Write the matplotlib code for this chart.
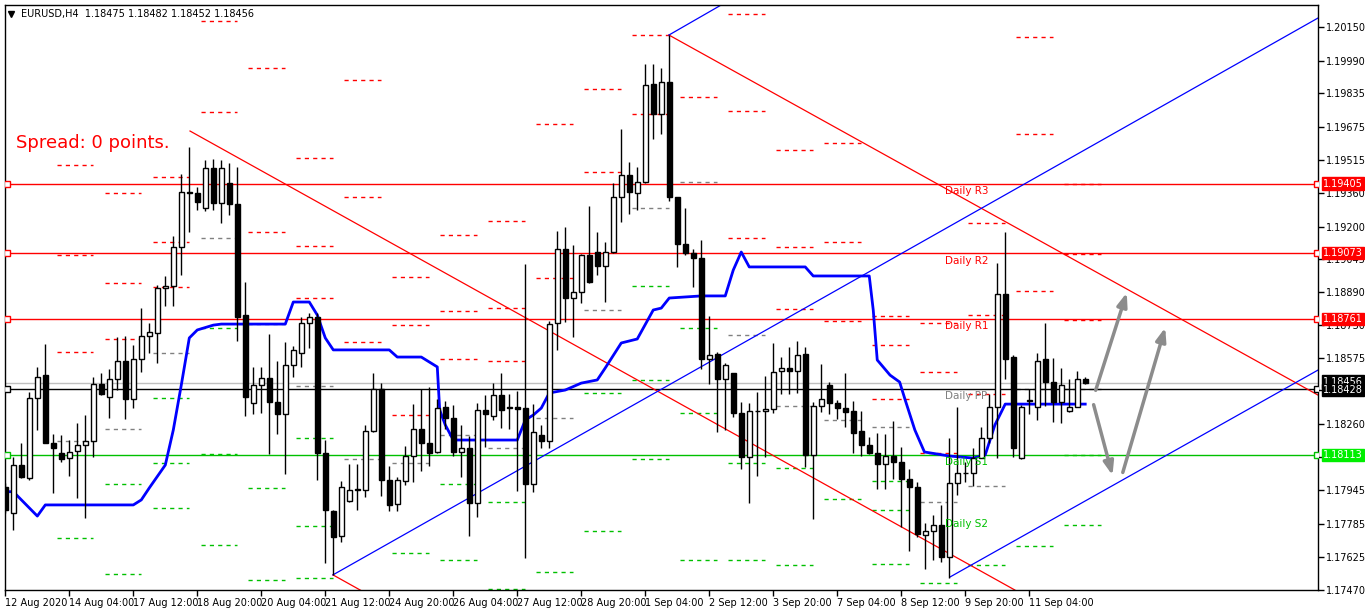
import matplotlib
matplotlib.use("Agg")
import matplotlib.pyplot as plt
from matplotlib.patches import Rectangle

opens = [1.17962,1.17835,1.18065,1.18001,1.18382,1.18492,1.18171,1.18124,1.18097,1.18130,
1.18162,1.18181,1.18449,1.18387,1.18473,1.18562,1.18377,1.18568,1.18679,1.18695,
1.18906,1.18917,1.19101,1.19363,1.19358,1.19287,1.19477,1.19311,1.19406,1.19307,
1.18777,1.18358,1.18444,1.18477,1.18363,1.18306,1.18539,1.18596,1.18739,1.18768,
1.18124,1.17847,1.17726,1.17894,1.17948,1.17948,1.18225,1.18429,1.17996,1.17878,
1.17989,1.18107,1.18238,1.18168,1.18127,1.18343,1.18290,1.18127,1.18148,1.17886,
1.18325,1.18300,1.18397,1.18335,1.18343,1.18335,1.17976,1.18209,1.18179,1.18742,
1.19094,1.18860,1.18888,1.19064,1.19077,1.19013,1.19077,1.19339,1.19445,1.19362,
1.19413,1.19877,1.19735,1.19887,1.19339,1.19118,1.19073,1.19049,1.18571,1.18592,
1.18476,1.18501,1.18311,1.18101,1.18320,1.18320,1.18330,1.18511,1.18525,1.18514,
1.18592,1.18112,1.18347,1.18444,1.18358,1.18335,1.18324,1.18227,1.18160,1.18120,
1.18068,1.18108,1.18081,1.18000,1.17959,1.17732,1.17752,1.17781,1.17628,1.17981,
1.18028,1.18028,1.18100,1.18192,1.18339,1.18877,1.18577,1.18097,1.18371,1.18343,
1.18568,1.18462,1.18366,1.18324,1.18343,1.18475]
closes = [1.17851,1.18065,1.18009,1.18382,1.18485,1.18171,1.18144,1.18092,1.18128,1.18159,
1.18181,1.18449,1.18401,1.18473,1.18562,1.18377,1.18568,1.18679,1.18700,1.18906,
1.18917,1.19101,1.19363,1.19358,1.19315,1.19477,1.19311,1.19477,1.19306,1.18771,
1.18390,1.18444,1.18477,1.18366,1.18306,1.18539,1.18612,1.18739,1.18768,1.18124,
1.17851,1.17720,1.17960,1.17948,1.17950,1.18227,1.18426,1.17996,1.17873,1.17993,
1.18107,1.18238,1.18168,1.18120,1.18336,1.18290,1.18127,1.18148,1.17886,1.18328,
1.18307,1.18397,1.18328,1.18343,1.18330,1.17976,1.18222,1.18179,1.18737,1.19094,
1.18860,1.18888,1.19064,1.18937,1.19013,1.19077,1.19339,1.19445,1.19364,1.19413,
1.19874,1.19735,1.19887,1.19339,1.19118,1.19076,1.19049,1.18571,1.18587,1.18476,
1.18539,1.18311,1.18101,1.18324,1.18324,1.18330,1.18509,1.18525,1.18514,1.18587,
1.18112,1.18347,1.18377,1.18358,1.18335,1.18319,1.18219,1.18160,1.18124,1.18068,
1.18108,1.18081,1.18000,1.17959,1.17735,1.17752,1.17781,1.17628,1.17981,1.18028,
1.18027,1.18100,1.18192,1.18339,1.18877,1.18571,1.18144,1.18343,1.18374,1.18562,
1.18462,1.18366,1.18444,1.18343,1.18473,1.18456]
highs = [1.17978,1.18104,1.18171,1.18414,1.18533,1.18641,1.18212,1.18208,1.18184,1.18263,
1.18303,1.18485,1.18504,1.18524,1.18673,1.18679,1.18636,1.18811,1.18739,1.18922,
1.18965,1.19155,1.19450,1.19580,1.19390,1.19517,1.19520,1.19517,1.19504,1.19485,
1.18938,1.18530,1.18533,1.18689,1.18562,1.18650,1.18631,1.18771,1.18787,1.18787,
1.18184,1.17851,1.17989,1.18071,1.18071,1.18254,1.18503,1.18456,1.18061,1.18009,
1.18156,1.18356,1.18429,1.18438,1.18377,1.18369,1.18349,1.18254,1.18205,1.18361,
1.18397,1.18454,1.18503,1.18402,1.18415,1.19023,1.18356,1.18254,1.18753,1.19179,
1.19200,1.19113,1.19069,1.19298,1.19174,1.19125,1.19408,1.19665,1.19506,1.19485,
1.19975,1.19972,1.19956,1.20111,1.19339,1.19288,1.19092,1.19136,1.18774,1.18604,
1.18552,1.18504,1.18366,1.18358,1.18414,1.18489,1.18644,1.18581,1.18628,1.18654,
1.18628,1.18366,1.18546,1.18460,1.18374,1.18501,1.18370,1.18322,1.18197,1.18216,
1.18211,1.18276,1.18149,1.18044,1.17985,1.17790,1.17827,1.17874,1.18192,1.18343,
1.18081,1.18144,1.18244,1.18401,1.19025,1.19176,1.18589,1.18351,1.18429,1.18597,
1.18739,1.18573,1.18528,1.18473,1.18514,1.18482]
lows = [1.17835,1.17755,1.18001,1.17993,1.18231,1.18168,1.17933,1.18081,1.18012,1.17906,
1.17811,1.18101,1.18398,1.18287,1.18422,1.18285,1.18338,1.18509,1.18600,1.18549,
1.18823,1.18823,1.18969,1.19176,1.19279,1.19276,1.19279,1.19219,1.19253,1.18657,
1.18300,1.18308,1.18311,1.18117,1.18211,1.18022,1.18485,1.18533,1.18620,1.17993,
1.17600,1.17540,1.17698,1.17891,1.17849,1.17911,1.18222,1.17919,1.17845,1.17845,
1.17968,1.17984,1.18038,1.18058,1.18120,1.18238,1.18107,1.18009,1.17728,1.17816,
1.18153,1.18279,1.18241,1.18238,1.17943,1.17624,1.17935,1.18148,1.18148,1.18614,
1.18748,1.18676,1.18835,1.18933,1.18969,1.18843,1.19072,1.19220,1.19260,1.19277,
1.19408,1.19615,1.19640,1.19323,1.19010,1.19064,1.18914,1.18520,1.18449,1.18220,
1.18231,1.18295,1.18044,1.17886,1.18014,1.18105,1.18311,1.18403,1.18403,1.18406,
1.18057,1.17806,1.18319,1.18308,1.18282,1.18244,1.18124,1.18108,1.18117,1.17952,
1.17949,1.17997,1.17771,1.17655,1.17724,1.17568,1.17613,1.17605,1.17528,1.17922,
1.17986,1.17965,1.18097,1.18168,1.18100,1.18473,1.18101,1.18093,1.18308,1.18279,
1.18346,1.18271,1.18263,1.18319,1.18340,1.18452]

ind_x = [0,1,4,5,16,17,18,20,21,22,23,24,26,27,35,36,38,39,40,41,48,49,52,54,54.3,55,56,64,65,66,
         67,68,70,72,74,75,77,79,81,82,83,87,90,91,92,93,100,101,108,108.5,109,110.6,111.8,112.5,
         113.7,114.9,118,121,122.5,123.7,125,135]
ind_y = [1.17938,1.17938,1.17822,1.17875,1.17875,1.17899,1.17956,1.18065,1.18232,1.18446,1.18670,
         1.18708,1.18731,1.18736,1.18736,1.18841,1.18841,1.18779,1.18670,1.18613,1.18613,1.18579,
         1.18579,1.18532,1.18327,1.18256,1.18184,1.18184,1.18279,1.18303,1.18336,1.18408,1.18422,
         1.18455,1.18470,1.18527,1.18646,1.18665,1.18803,1.18812,1.18860,1.18870,1.18870,1.18993,
         1.19079,1.19008,1.19008,1.18965,1.18965,1.18803,1.18565,1.18493,1.18460,1.18374,1.18232,
         1.18127,1.18108,1.18098,1.18113,1.18255,1.18355,1.18355]

level_vals = [1.19405, 1.19073, 1.18761, 1.18428, 1.18113]
level_names = ["Daily R3", "Daily R2", "Daily R1", "Daily PP", "Daily S1"]
level_cols = ["#ff0000", "#ff0000", "#ff0000", "#808080", "#00c000"]
bid = 1.18456
yticks = [1.20150,1.19990,1.19835,1.19675,1.19515,1.19360,1.19200,1.19045,1.18890,1.18730,
          1.18575,1.18420,1.18260,1.18105,1.17945,1.17785,1.17625,1.17470]
xtick_pos = [0,8,16,24,32,40,48,56,64,72,80,88,96,104,112,120,128]
xtick_lab = ["12 Aug 2020","14 Aug 04:00","17 Aug 12:00","18 Aug 20:00","20 Aug 04:00",
             "21 Aug 12:00","24 Aug 20:00","26 Aug 04:00","27 Aug 12:00","28 Aug 20:00",
             "1 Sep 04:00","2 Sep 12:00","3 Sep 20:00","7 Sep 04:00","8 Sep 12:00",
             "9 Sep 20:00","11 Sep 04:00"]

fig = plt.figure(figsize=(13.65, 6.16), dpi=100)
fig.patch.set_facecolor("white")
ax = fig.add_axes([5/1365, 26/616, 1313/1365, 585/616])
X0, X1 = -0.04, 164.1
Y0, Y1 = 1.17470, 1.20255
ax.set_xlim(X0, X1); ax.set_ylim(Y0, Y1)

n = len(closes)
for k in range(1, 23):
    s = 1 + 6 * (k - 1)
    H = max(highs[s:s + 6]); L = min(lows[s:s + 6]); C = closes[min(s + 5, n - 1)]
    P = (H + L + C) / 3
    lv = [(H + 2 * (P - L), "r"), (P + (H - L), "r"), (2 * P - L, "r"), (P, "g0"),
          (2 * P - H, "s"), (P - (H - L), "s"), (L - 2 * (H - P), "s")]
    xa, xb = 1 + 6 * k - 0.6, 5 + 6 * k
    for v, t in lv:
        c = {"r": "#ff0000", "g0": "#808080", "s": "#00c000"}[t]
        ax.plot([xa, xb], [v, v], color=c, lw=1, ls=(0, (3, 3)), zorder=1)

for v, nm, c in zip(level_vals, level_names, level_cols):
    lc = "black" if nm == "Daily PP" else c
    ax.axhline(v, color=lc, lw=1, zorder=2)
    ax.plot([0.2, X1 - 0.15], [v, v], ls="none", marker="s", ms=4, mfc="white", mec=lc, zorder=3)
    ax.text(117.5, v - 0.00012, nm, color=c, fontsize=7.5, va="top", ha="left", zorder=6)
ax.axhline(bid, color="#c0c0c0", lw=1, zorder=2)
ax.text(117.5, 1.17810, "Daily S2", color="#00c000", fontsize=7.5, va="top", zorder=6)

ax.plot([23.09, 126.2], [1.19655, 1.17470], color="#ff0000", lw=0.9, zorder=2)
ax.plot([82.96, 164.1], [1.20112, 1.18398], color="#ff0000", lw=0.9, zorder=2)
ax.plot([40.96, 49.3], [1.17542, 1.17365], color="#ff0000", lw=0.9, zorder=2)
ax.plot([40.96, 164.1], [1.17542, 1.20193], color="#0000ff", lw=0.9, zorder=2)
ax.plot([82.96, 92.0], [1.20112, 1.20310], color="#0000ff", lw=0.9, zorder=2)
ax.plot([118.1, 164.1], [1.17532, 1.18517], color="#0000ff", lw=0.9, zorder=2)

ax.plot(ind_x, ind_y, color="#0000ff", lw=2, zorder=4)

for i in range(n):
    o, c, h, l = opens[i], closes[i], highs[i], lows[i]
    ax.vlines(i, l, h, color="black", lw=1, zorder=4)
    bot, top = min(o, c), max(o, c)
    hgt = max(top - bot, 0.000015)
    ax.add_patch(Rectangle((i - 0.3, bot), 0.6, hgt, facecolor="white" if c >= o else "black",
                           edgecolor="black", lw=1, zorder=5))

for (xa, ya, xb, yb) in [(136.2, 1.18408, 140.3, 1.18898), (135.96, 1.18365, 138.5, 1.18003),
                         (139.6, 1.18017, 145.1, 1.18732)]:
    ax.annotate("", xy=(xb, yb), xytext=(xa, ya),
                arrowprops=dict(arrowstyle="-|>,head_width=0.3,head_length=0.8", color="#8c8c8c", lw=2.5),
                zorder=6)

ax.yaxis.tick_right()
ax.set_yticks(yticks)
ax.set_yticklabels([f"{v:.5f}" for v in yticks], fontsize=7)
ax.set_xticks(xtick_pos)
ax.set_xticklabels(xtick_lab, fontsize=7, ha="left")
ax.tick_params(axis="both", length=4, width=1, color="black", pad=2)
for s in ax.spines.values():
    s.set_linewidth(1)

boxes = [(1.19405, "#ff0000"), (1.19073, "#ff0000"), (1.18761, "#ff0000"),
         (1.18456, "black"), (1.18428, "black"), (1.18113, "#00ee00")]
for v, c in boxes:
    off = 0.00006 if v == 1.18456 else (-0.00006 if v == 1.18428 else 0)
    ax.text(1.004, v + off, f"{v:.5f}", transform=ax.get_yaxis_transform(), fontsize=7, color="white",
            va="center", ha="left", bbox=dict(boxstyle="square,pad=0.12", fc=c, ec=c), zorder=7)

ax.text(0.008, 0.755, "Spread: 0 points.", transform=ax.transAxes, color="#ff0000", fontsize=13)
ax.text(0.012, 0.993, "EURUSD,H4  1.18475 1.18482 1.18452 1.18456", transform=ax.transAxes,
        fontsize=7, va="top")
ax.plot([0.0045], [0.985], transform=ax.transAxes, marker="v", ms=4, color="black")

fig.savefig("out.png", dpi=100)
